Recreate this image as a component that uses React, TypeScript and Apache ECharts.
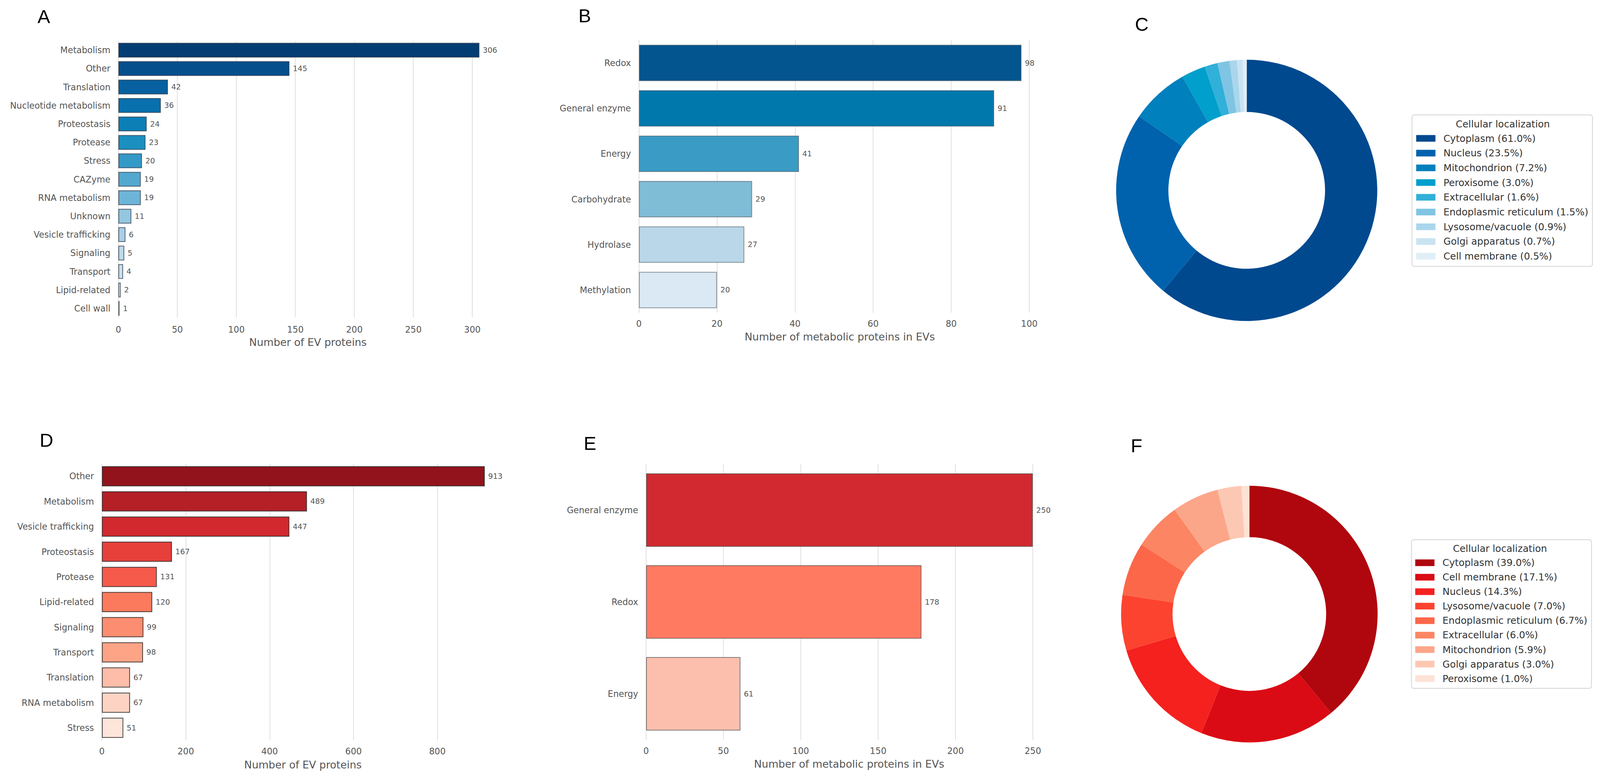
import React, { useEffect, useRef } from "react";
import * as echarts from "echarts";

// ---------- Data ----------
const catA = ["Metabolism", "Other", "Translation", "Nucleotide metabolism", "Proteostasis", "Protease", "Stress", "CAZyme", "RNA metabolism", "Unknown", "Vesicle trafficking", "Signaling", "Transport", "Lipid-related", "Cell wall"];
const valA = [306, 145, 42, 36, 24, 23, 20, 19, 19, 11, 6, 5, 4, 2, 1];
const colA = ["#033d73", "#054f8d", "#07609f", "#0870ad", "#0b7fb6", "#1a8fc0", "#3399c6", "#52a8cf", "#6db5d8", "#93c7e0", "#a8d0e6", "#bcdaeb", "#c9e1ef", "#d7e8f3", "#e5f0f8"];

const catB = ["Redox", "General enzyme", "Energy", "Carbohydrate", "Hydrolase", "Methylation"];
const valB = [98, 91, 41, 29, 27, 20];
const colB = ["#02558f", "#0078ab", "#3a9bc4", "#7fbcd6", "#b9d7e8", "#dbe9f4"];

const locC = ["Cytoplasm", "Nucleus", "Mitochondrion", "Peroxisome", "Extracellular", "Endoplasmic reticulum", "Lysosome/vacuole", "Golgi apparatus", "Cell membrane"];
const pctC = [61.0, 23.5, 7.2, 3.0, 1.6, 1.5, 0.9, 0.7, 0.5];
const colC = ["#00498f", "#0062ad", "#0080bd", "#009fcc", "#31b0d9", "#7fc5e3", "#a9d6ec", "#c9e3f2", "#e0eef8"];

const catD = ["Other", "Metabolism", "Vesicle trafficking", "Proteostasis", "Protease", "Lipid-related", "Signaling", "Transport", "Translation", "RNA metabolism", "Stress"];
const valD = [913, 489, 447, 167, 131, 120, 99, 98, 67, 67, 51];
const colD = ["#93131c", "#b51f26", "#d1292e", "#e73f3a", "#f65a4b", "#fb7a5d", "#fc8d70", "#fda386", "#fdbda8", "#fdd4c4", "#fee5da"];

const catE = ["General enzyme", "Redox", "Energy"];
const valE = [250, 178, 61];
const colE = ["#d1292f", "#ff7a61", "#fdbfad"];

const locF = ["Cytoplasm", "Cell membrane", "Nucleus", "Lysosome/vacuole", "Endoplasmic reticulum", "Extracellular", "Mitochondrion", "Golgi apparatus", "Peroxisome"];
const pctF = [39.0, 17.1, 14.3, 7.0, 6.7, 6.0, 5.9, 3.0, 1.0];
const colF = ["#b0060e", "#da0b14", "#f4211f", "#fc432f", "#fc6749", "#fc8563", "#fca689", "#fdc8b3", "#fee2d6"];

const panelLetters = ["A", "B", "C", "D", "E", "F"];
const xTitleA = "Number of EV proteins";
const xTitleB = "Number of metabolic proteins in EVs";
const legendTitle = "Cellular localization";

// ---------- Layout ----------
const FONT = "DejaVu Sans";
const W = 4239;
const H = 1993;

export default function App() {
  const ref = useRef<HTMLDivElement>(null);

  useEffect(() => {
    const el = ref.current;
    if (!el) return;
    const cw = el.clientWidth || W;
    const ch = el.clientHeight || H;
    const sx = cw / W;
    const sy = ch / H;
    const fs = Math.min(sx, sy);
    const X = (v: number) => v * sx;
    const Y = (v: number) => v * sy;
    const F = (v: number) => v * fs;

    const chart = echarts.init(el, undefined, { renderer: "svg" });

    function barPanel(
      idx: number,
      cats: string[],
      vals: number[],
      colors: string[],
      L: { left: number; right: number; top: number; bottom: number; interval: number; labelMargin: number; nameGap: number; border: string },
      title: string
    ) {
      const max = Math.max(...vals) * 1.05;
      return {
        grid: { left: X(L.left), top: Y(L.top), width: X(L.right - L.left), height: Y(L.bottom - L.top), containLabel: false },
        xAxis: {
          gridIndex: idx,
          type: "value",
          min: 0,
          max,
          interval: L.interval,
          axisLine: { show: false },
          axisTick: { show: false },
          splitLine: { show: true, showMinLine: true, showMaxLine: false, lineStyle: { color: "#e0e0e0", width: 2 } },
          axisLabel: { fontSize: F(23), color: "#555", margin: Y(L.labelMargin), showMaxLabel: false, fontFamily: FONT },
          name: title,
          nameLocation: "middle",
          nameGap: Y(L.nameGap),
          nameTextStyle: { fontSize: F(27.5), color: "#555", fontFamily: FONT },
        },
        yAxis: {
          gridIndex: idx,
          type: "category",
          inverse: true,
          data: cats,
          axisLine: { show: false },
          axisTick: { show: false },
          splitLine: { show: false },
          axisLabel: { fontSize: F(23), color: "#555", margin: X(21), fontFamily: FONT },
        },
        series: {
          type: "bar",
          xAxisIndex: idx,
          yAxisIndex: idx,
          barWidth: "80%",
          data: vals.map((v, i) => ({ value: v, itemStyle: { color: colors[i] } })),
          itemStyle: { borderColor: L.border, borderWidth: 2 },
          label: { show: true, position: "right", distance: X(9), fontSize: F(20), color: "#555", fontFamily: FONT },
          emphasis: { disabled: true },
        },
      };
    }

    const pA = barPanel(0, catA, valA, colA, { left: 313.6, right: 1318, top: 104.7, bottom: 812.6, interval: 50, labelMargin: 19, nameGap: 49, border: "rgba(45,55,70,0.75)" }, xTitleA);
    const pB = barPanel(1, catB, valB, colB, { left: 1692.7, right: 2757, top: 103, bottom: 800, interval: 20, labelMargin: 17, nameGap: 48, border: "rgba(70,80,90,0.6)" }, xTitleB);
    const pD = barPanel(2, catD, valD, colD, { left: 270, right: 1335, top: 1186.3, bottom: 1894.2, interval: 200, labelMargin: 17, nameGap: 49, border: "rgba(40,40,40,0.85)" }, xTitleA);
    const pE = barPanel(3, catE, valE, colE, { left: 1711.7, right: 2787.7, top: 1187.5, bottom: 1892.5, interval: 50, labelMargin: 17, nameGap: 48, border: "rgba(80,80,80,0.7)" }, xTitleB);
    const panels = [pA, pB, pD, pE];

    const namesC = locC.map((n, i) => `${n} (${pctC[i].toFixed(1)}%)`);
    const namesF = locF.map((n, i) => `${n} (${pctF[i].toFixed(1)}%)`);

    const legendBase = {
      orient: "vertical",
      icon: "rect",
      itemWidth: X(51),
      itemHeight: Y(17),
      borderColor: "#d4d4d4",
      borderWidth: 2,
      borderRadius: 6,
      backgroundColor: "#ffffff",
      selectedMode: false,
      textStyle: { fontSize: F(25.5), color: "#333", lineHeight: Y(26), fontFamily: FONT, padding: [0, 0, 0, X(16)] },
    };

    const letterPos = [
      [116, 42],
      [1549, 40],
      [3025, 62],
      [123, 1126],
      [1563, 1134],
      [3011, 1140],
    ];

    const graphics: any[] = panelLetters.map((t, i) => ({
      type: "text",
      x: X(letterPos[i][0]),
      y: Y(letterPos[i][1]),
      z: 100,
      style: { text: t, fontSize: F(50), fill: "#000", fontFamily: "Liberation Sans", textAlign: "center", textVerticalAlign: "middle" },
    }));
    graphics.push(
      { type: "text", x: X(3981.5), y: Y(317), z: 100, style: { text: legendTitle, fontSize: F(25.5), fill: "#333", fontFamily: FONT, textAlign: "center", textVerticalAlign: "middle" } },
      { type: "text", x: X(3974), y: Y(1403.6), z: 100, style: { text: legendTitle, fontSize: F(25.5), fill: "#333", fontFamily: FONT, textAlign: "center", textVerticalAlign: "middle" } }
    );

    const rC = (sx + sy) / 2;

    const option: any = {
      animation: false,
      backgroundColor: "#ffffff",
      textStyle: { fontFamily: FONT },
      grid: panels.map((p) => p.grid),
      xAxis: panels.map((p) => p.xAxis),
      yAxis: panels.map((p) => p.yAxis),
      legend: [
        { ...legendBase, data: namesC, left: X(3741), top: Y(294), padding: [Y(47), X(11), Y(13), X(11)], itemGap: Y(11.7) },
        { ...legendBase, data: namesF, left: X(3739.5), top: Y(1380.7), padding: [Y(46), X(11), Y(12), X(10)], itemGap: Y(11.05) },
      ],
      series: [
        ...panels.map((p) => p.series),
        {
          type: "pie",
          center: [X(3303), Y(487)],
          radius: [204 * rC, 340 * rC],
          startAngle: 90,
          clockwise: true,
          label: { show: false },
          labelLine: { show: false },
          emphasis: { disabled: true },
          itemStyle: { borderWidth: 0 },
          data: namesC.map((n, i) => ({ name: n, value: pctC[i], itemStyle: { color: colC[i] } })),
        },
        {
          type: "pie",
          center: [X(3310), Y(1571)],
          radius: [200 * rC, 334 * rC],
          startAngle: 90,
          clockwise: true,
          label: { show: false },
          labelLine: { show: false },
          emphasis: { disabled: true },
          itemStyle: { borderWidth: 0 },
          data: namesF.map((n, i) => ({ name: n, value: pctF[i], itemStyle: { color: colF[i] } })),
        },
      ],
      graphic: graphics,
    };

    chart.setOption(option);
    return () => chart.dispose();
  }, []);

  return <div ref={ref} style={{ position: "fixed", left: 0, top: 0, width: "100%", height: "100%", background: "#fff" }} />;
}
